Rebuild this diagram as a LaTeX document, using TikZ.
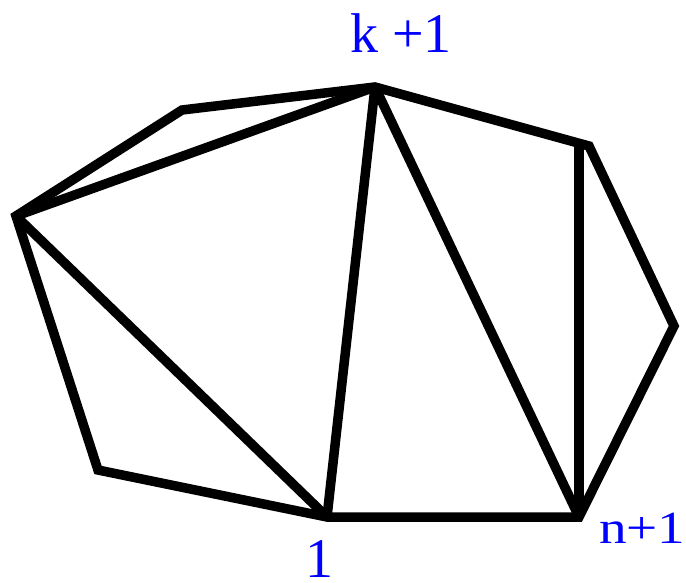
\documentclass[tikz,border=0pt]{standalone}
\usepackage{fontspec}
\setmainfont{Liberation Serif}
\begin{document}
\begin{tikzpicture}[x=1pt,y=-1pt,
  edge/.style={line width=9.5pt,line join=miter,black},
  lbl/.style={text=blue,inner sep=0pt,text depth=0pt}]
\useasboundingbox (0,0) rectangle (686,582);
\coordinate (A) at (16,216);
\coordinate (B) at (182,110);
\coordinate (K) at (375,87);
\coordinate (C) at (589,146);
\coordinate (D) at (674,326);
\coordinate (N) at (579,517);
\coordinate (P) at (327,517);
\coordinate (E) at (98,470);
\coordinate (Ctop) at (579,143);
\draw[edge] (A) -- (B) -- (K) -- (C) -- (D) -- (N) -- (P) -- (E) -- cycle;
\draw[edge] (A) -- (K);
\draw[edge] (A) -- (P);
\draw[edge] (P) -- (K);
\draw[edge] (K) -- (N);
\draw[edge] (Ctop) -- (N);
\node[lbl,anchor=base west,font=\fontsize{56}{60}\selectfont] (lk) at (350,52) {k +1};
\node[lbl,anchor=base west,font=\fontsize{56}{60}\selectfont] (l1) at (305,577) {1};
\node[lbl,anchor=base west,xscale=1.2,font=\fontsize{46}{50}\selectfont] (ln) at (599,543) {n+1};
\end{tikzpicture}
\end{document}
